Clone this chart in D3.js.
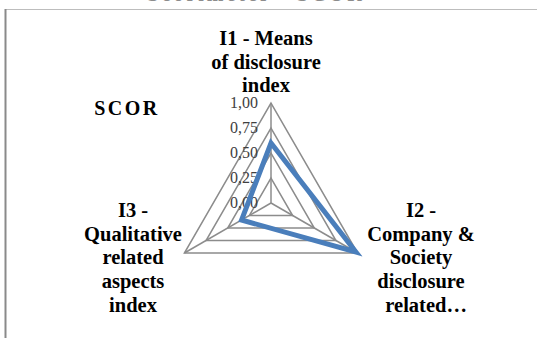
<!DOCTYPE html>
<html>
<head>
<meta charset="utf-8">
<script src="https://cdn.jsdelivr.net/npm/d3@7"></script>
<style>
  body { margin: 0; background: #fff; }
  svg { display: block; }
</style>
</head>
<body>
<svg width="537" height="342"></svg>
<script>
// data
var categories = ["I1 - Means of disclosure index", "I2 - Company & Society disclosure related…", "I3 - Qualitative related aspects index"];
var values = [0.60, 0.98, 0.34];
var ticks = [0, 0.25, 0.5, 0.75, 1];
var tickLabels = ["0,00", "0,25", "0,50", "0,75", "1,00"];
var labelLines = [
    ["I1 - Means", "of disclosure", "index"],
    ["I2 -", "Company &", "Society", "disclosure", "\u00a0\u00a0related…"],
    ["I3 -", "Qualitative", "related", "aspects", "index"]
];
var seriesName = "SCOR";

var svg = d3.select("svg"),
    cx = 271, cy = 203, R = 100;

var r = d3.scaleLinear().domain([0, 1]).range([0, R]);
var angle = d3.scaleLinear().domain([0, categories.length]).range([0, 2 * Math.PI]);

function pt(i, v) {
    var a = angle(i);
    return [cx + r(v) * Math.sin(a), cy - r(v) * Math.cos(a)];
}

// frame (cut chart area)
svg.append("line").attr("x1", 5).attr("y1", 9.5).attr("x2", 537).attr("y2", 9.5)
    .attr("stroke", "#bdbdbd").attr("stroke-width", 1);
svg.append("line").attr("x1", 5.5).attr("y1", 9).attr("x2", 5.5).attr("y2", 338)
    .attr("stroke", "#8a8a8a").attr("stroke-width", 2);

// title peeking out at the top
svg.append("text").attr("x", 256).attr("y", 1)
    .attr("text-anchor", "middle")
    .style("font-family", "Liberation Serif")
    .style("font-size", "20px")
    .style("font-weight", "bold")
    .style("letter-spacing", "3px")
    .attr("fill", "#8c8c8c")
    .text("Scorimeter - SCOR");

// grid
var grid = svg.append("g").attr("fill", "none").attr("stroke", "#8c8c8c").attr("stroke-width", 1.5);
grid.selectAll("polygon")
    .data(ticks.filter(function(t) { return t > 0; }))
    .enter().append("polygon")
    .attr("points", function(t) {
        return categories.map(function(c, i) { return pt(i, t).join(","); }).join(" ");
    });
grid.selectAll("line")
    .data(categories)
    .enter().append("line")
    .attr("x1", cx).attr("y1", cy)
    .attr("x2", function(d, i) { return pt(i, 1)[0]; })
    .attr("y2", function(d, i) { return pt(i, 1)[1]; });

// tick labels
svg.append("g").selectAll("text")
    .data(ticks)
    .enter().append("text")
    .attr("x", cx - 13)
    .attr("y", function(t) { return cy - r(t) + 5; })
    .attr("text-anchor", "end")
    .style("font-family", "Liberation Serif")
    .style("font-size", "16px")
    .attr("fill", "#404040")
    .text(function(t, i) { return tickLabels[i]; });

// series
var line = d3.line().curve(d3.curveLinearClosed);
svg.append("path")
    .datum(values.map(function(v, i) { return pt(i, v); }))
    .attr("d", line)
    .attr("fill", "none")
    .attr("stroke", "#4a7ebb")
    .attr("stroke-width", 5)
    .attr("stroke-linejoin", "miter");

// category labels
var labelPos = [[266, 38], [421, 210], [133, 210]];
labelLines.forEach(function(lines, i) {
    var t = svg.append("text")
        .attr("text-anchor", "middle")
        .style("font-family", "Liberation Serif")
        .style("font-size", "20.5px")
        .style("font-weight", "bold")
        .attr("fill", "#000");
    lines.forEach(function(s, j) {
        t.append("tspan")
            .attr("x", labelPos[i][0])
            .attr("y", labelPos[i][1] + 7 + j * 23.7)
            .text(s);
    });
});

// series name
svg.append("text").attr("x", 127).attr("y", 115)
    .attr("text-anchor", "middle")
    .style("font-family", "Liberation Serif")
    .style("font-size", "20px")
    .style("font-weight", "bold")
    .style("letter-spacing", "2.5px")
    .text(seriesName);
</script>
</body>
</html>
